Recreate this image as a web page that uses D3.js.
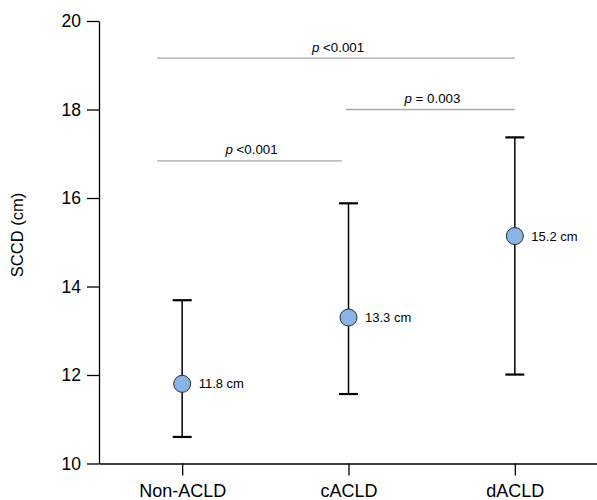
<!DOCTYPE html>
<html>
<head>
<meta charset="utf-8">
<script src="https://cdn.jsdelivr.net/npm/d3@7"></script>
<style>
  html, body { margin: 0; padding: 0; background: #fff; }
  svg { display: block; font-family: "Liberation Sans", Arial, sans-serif; }
</style>
</head>
<body>
<svg id="chart" width="597" height="500"></svg>
<script>
// ---- data ----
const categories = ["Non-ACLD", "cACLD", "dACLD"];
const means = [11.8, 13.3, 15.14];
const upper = [13.69, 15.88, 17.37];
const lower = [10.6, 11.57, 12.01];
const valueLabels = ["11.8 cm", "13.3 cm", "15.2 cm"];
const yTicks = [10, 12, 14, 16, 18, 20];
// significance brackets (positions in category-index units, y in data units)
const bracketStart = [-0.15, 0.985, -0.15];
const bracketEnd = [2, 2, 0.96];
const bracketY = [19.16, 18.0, 16.84];
const bracketP = ["<0.001", "= 0.003", "<0.001"];

const svg = d3.select("#chart");

const x = d3.scalePoint().domain(categories).range([99, 598]).padding(0.5);
const y = d3.scaleLinear().domain([10, 20]).range([463.5, 21]);
const xi = d3.scaleLinear().domain([0, 2]).range([x(categories[0]), x(categories[2])]);

// y axis
const yAxis = svg.append("g")
  .attr("transform", "translate(99,0)")
  .call(d3.axisLeft(y).tickValues(yTicks).tickSize(12).tickSizeOuter(0).tickPadding(6).tickFormat(d3.format("d")));
yAxis.select(".domain").attr("stroke", "#000").attr("stroke-width", 1.3);
yAxis.selectAll(".tick line").attr("stroke", "#000").attr("stroke-width", 1.3);
yAxis.selectAll(".tick text").attr("font-size", "17.5px").attr("fill", "#000")
  .attr("font-family", '"Liberation Sans", Arial, sans-serif');

// x axis
const xAxis = svg.append("g")
  .attr("transform", "translate(0,463.5)")
  .call(d3.axisBottom(x).tickSize(12).tickSizeOuter(0).tickPadding(8.7));
xAxis.select(".domain").attr("stroke", "#000").attr("stroke-width", 1.3);
xAxis.selectAll(".tick line").attr("stroke", "#000").attr("stroke-width", 1.3);
xAxis.selectAll(".tick text").attr("font-size", "18px").attr("fill", "#000")
  .attr("font-family", '"Liberation Sans", Arial, sans-serif');

// y title
svg.append("text")
  .attr("transform", "translate(23,235) rotate(-90)")
  .attr("text-anchor", "middle")
  .attr("font-size", "16.5px")
  .attr("fill", "#000")
  .text("SCCD (cm)");

// significance brackets
const br = svg.append("g");
bracketY.forEach((v, i) => {
  const x1 = xi(bracketStart[i]), x2 = xi(bracketEnd[i]);
  br.append("line")
    .attr("x1", x1).attr("x2", x2)
    .attr("y1", y(v)).attr("y2", y(v))
    .attr("stroke", "#a8a8a8").attr("stroke-width", 1.4);
  const t = br.append("text")
    .attr("x", (x1 + x2) / 2 + 2)
    .attr("y", y(v) - 6.5)
    .attr("text-anchor", "middle")
    .attr("font-size", "13.3px")
    .attr("fill", "#000");
  t.append("tspan").attr("font-style", "italic").text("p");
  t.append("tspan").text(" " + bracketP[i]);
});

// error bars
const eb = svg.append("g");
categories.forEach((c, i) => {
  const cx = x(c);
  eb.append("line").attr("x1", cx).attr("x2", cx)
    .attr("y1", y(upper[i])).attr("y2", y(lower[i]))
    .attr("stroke", "#000").attr("stroke-width", 1.5);
  [upper[i], lower[i]].forEach(v => {
    eb.append("line").attr("x1", cx - 9.5).attr("x2", cx + 9.5)
      .attr("y1", y(v)).attr("y2", y(v))
      .attr("stroke", "#000").attr("stroke-width", 2.2);
  });
});

// markers
svg.append("g").selectAll("circle")
  .data(categories)
  .join("circle")
  .attr("cx", d => x(d))
  .attr("cy", (d, i) => y(means[i]))
  .attr("r", 8.5)
  .attr("fill", "#88b4e8")
  .attr("stroke", "#2a2a2a")
  .attr("stroke-width", 1);

// value labels
svg.append("g").selectAll("text")
  .data(categories)
  .join("text")
  .attr("x", d => x(d) + 16.5)
  .attr("y", (d, i) => y(means[i]) + 4.5)
  .attr("font-size", "13px")
  .attr("fill", "#000")
  .text((d, i) => valueLabels[i]);
</script>
</body>
</html>
